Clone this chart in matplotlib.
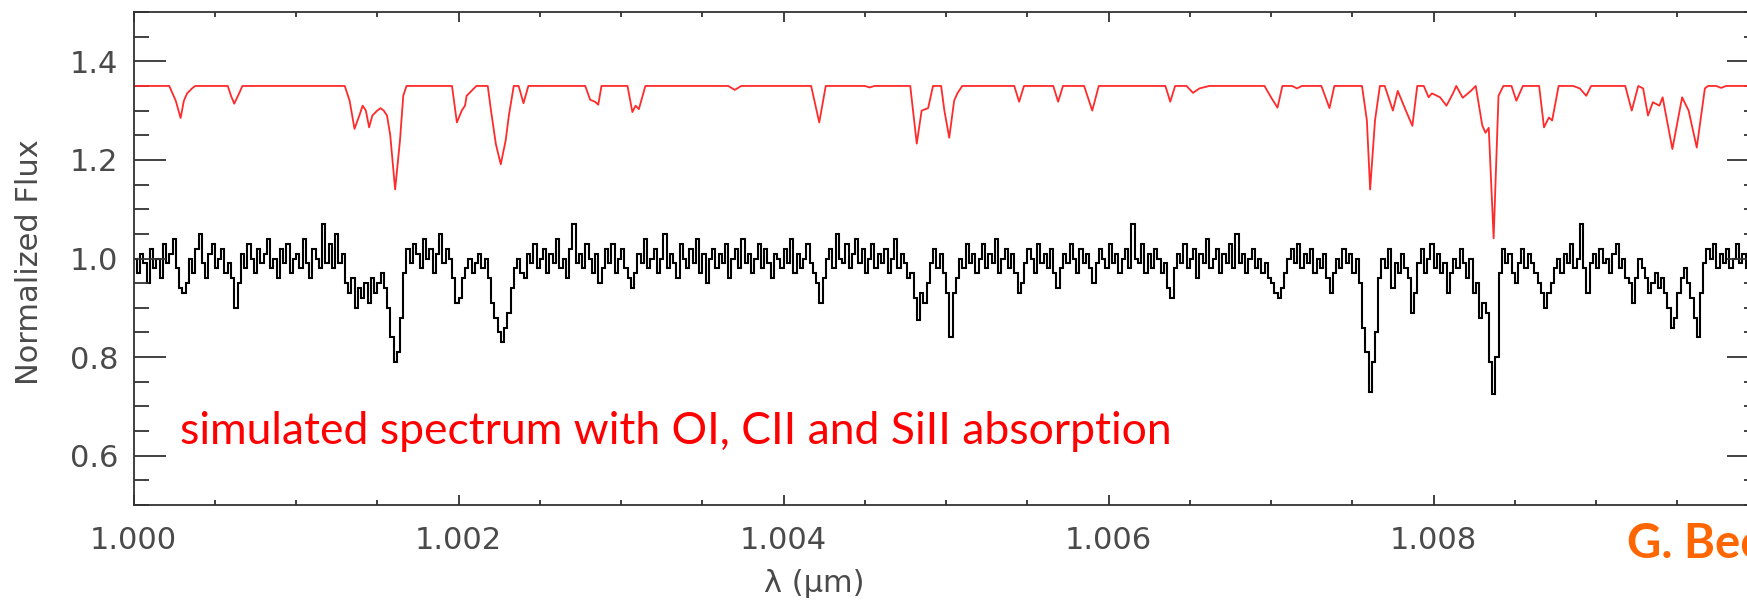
import matplotlib
matplotlib.use("Agg")
import matplotlib.pyplot as plt
import numpy as np
from matplotlib.ticker import MultipleLocator, FormatStrFormatter

# model spectrum (red), vertices, one absorption feature per line
red_wave = [
    1.00000, 1.00022,
    1.00026, 1.00029, 1.00031, 1.00033, 1.00036, 1.00038,
    1.00058, 1.00060, 1.00062, 1.00065, 1.00067,
    1.00130, 1.00133, 1.00136, 1.00139, 1.00141, 1.00143, 1.00145, 1.00147, 1.00150,
    1.00152, 1.00154, 1.00156, 1.00158, 1.00161, 1.00164, 1.00166, 1.00168,
    1.00196, 1.00199, 1.00202, 1.00204, 1.00205, 1.00208, 1.00211,
    1.00218, 1.00220, 1.00223, 1.00226, 1.00229, 1.00231, 1.00234,
    1.00237, 1.00240, 1.00243,
    1.00278, 1.00281, 1.00284, 1.00286, 1.00288,
    1.00304, 1.00307, 1.00309, 1.00311, 1.00315,
    1.00366, 1.00370, 1.00374,
    1.00417, 1.00422, 1.00426,
    1.00450, 1.00453, 1.00456,
    1.00478, 1.00482, 1.00485, 1.00489, 1.00492,
    1.00497, 1.00499, 1.00502, 1.00505, 1.00507, 1.00510,
    1.00542, 1.00545, 1.00548,
    1.00566, 1.00569, 1.00572,
    1.00585, 1.00590, 1.00594,
    1.00635, 1.00638, 1.00641,
    1.00648, 1.00652, 1.00656, 1.00662,
    1.00696, 1.00700, 1.00704, 1.00707,
    1.00713, 1.00716, 1.00719,
    1.00731, 1.00736, 1.00739,
    1.00756, 1.00759, 1.00761, 1.00764, 1.00767,
    1.00770, 1.00775, 1.00778, 1.00783, 1.00787, 1.00790,
    1.00794, 1.00797, 1.00799, 1.00804, 1.00808, 1.00812, 1.00814, 1.00818, 1.00823,
    1.00826, 1.00830, 1.00832, 1.00834, 1.00837, 1.00840, 1.00843,
    1.00848, 1.00851, 1.00855,
    1.00865, 1.00868, 1.00871, 1.00873, 1.00877,
    1.00886, 1.00890, 1.00894, 1.00897,
    1.00918, 1.00922, 1.00926,
    1.00929, 1.00932, 1.00935, 1.00939, 1.00941, 1.00947, 1.00953, 1.00957, 1.00962,
    1.00967, 1.00969,
    1.00974, 1.00977, 1.00980, 1.01000,
]
red_flux = [
    1.35, 1.35,
    1.32, 1.285, 1.32, 1.335, 1.345, 1.35,
    1.35, 1.33, 1.314, 1.335, 1.35,
    1.35, 1.32, 1.263, 1.29, 1.31, 1.30, 1.266, 1.29, 1.30,
    1.305, 1.30, 1.29, 1.25, 1.14, 1.24, 1.33, 1.35,
    1.35, 1.276, 1.30, 1.31, 1.33, 1.34, 1.35,
    1.35, 1.30, 1.232, 1.191, 1.239, 1.29, 1.35,
    1.35, 1.315, 1.35,
    1.35, 1.322, 1.318, 1.312, 1.35,
    1.35, 1.297, 1.31, 1.303, 1.35,
    1.35, 1.342, 1.35,
    1.35, 1.276, 1.35,
    1.35, 1.347, 1.35,
    1.35, 1.233, 1.30, 1.305, 1.35,
    1.35, 1.30, 1.245, 1.32, 1.335, 1.35,
    1.35, 1.318, 1.35,
    1.35, 1.318, 1.35,
    1.35, 1.30, 1.35,
    1.35, 1.318, 1.35,
    1.35, 1.336, 1.345, 1.35,
    1.35, 1.327, 1.306, 1.35,
    1.35, 1.345, 1.35,
    1.35, 1.305, 1.35,
    1.35, 1.28, 1.14, 1.28, 1.35,
    1.35, 1.30, 1.34, 1.30, 1.269, 1.35,
    1.35, 1.327, 1.335, 1.327, 1.31, 1.335, 1.35, 1.326, 1.34,
    1.35, 1.27, 1.255, 1.265, 1.041, 1.33, 1.35,
    1.35, 1.32, 1.35,
    1.35, 1.266, 1.286, 1.28, 1.35,
    1.35, 1.345, 1.33, 1.35,
    1.35, 1.30, 1.35,
    1.345, 1.29, 1.317, 1.31, 1.327, 1.222, 1.327, 1.30, 1.225,
    1.345, 1.35,
    1.35, 1.346, 1.35, 1.35,
]

# noisy simulated spectrum (black), one value per 0.00002 um pixel, 20 per row
pix_start = 1.0
pix_width = 0.00002
black_flux = [
    1.00, 0.97, 1.01, 0.99, 0.95, 1.02, 0.98, 1.00, 0.96, 1.03, 0.99, 1.01, 1.04, 0.98, 0.94, 0.93, 0.95, 1.00, 0.97, 1.02,
    1.05, 0.99, 0.96, 1.01, 1.03, 0.98, 1.00, 1.02, 0.97, 0.99, 0.96, 0.90, 0.95, 1.01, 0.98, 1.03, 1.00, 0.97, 1.02, 0.99,
    1.01, 1.04, 0.98, 1.00, 0.96, 1.02, 0.99, 1.03, 0.97, 1.00, 1.01, 0.98, 1.04, 0.99, 0.96, 1.02, 1.00, 0.98, 1.07, 0.99,
    1.03, 0.98, 1.05, 0.99, 1.01, 0.95, 0.93, 0.96, 0.90, 0.94, 0.92, 0.95, 0.91, 0.96, 0.93, 0.95, 0.97, 0.94, 0.90, 0.84,
    0.79, 0.81, 0.88, 0.97, 1.02, 0.99, 1.03, 1.01, 0.98, 1.04, 1.00, 1.02, 0.97, 1.01, 1.05, 0.99, 1.02, 1.00, 0.96, 0.91,
    0.92, 0.96, 0.98, 1.00, 0.97, 0.99, 1.01, 0.98, 1.00, 0.96, 0.91, 0.88, 0.85, 0.83, 0.86, 0.89, 0.94, 0.98, 1.00, 0.97,
    0.96, 1.01, 0.99, 1.03, 0.98, 1.00, 1.02, 0.97, 1.01, 0.99, 1.04, 0.98, 1.00, 0.96, 1.02, 1.07, 0.99, 1.01, 0.98, 1.03,
    1.00, 0.97, 1.01, 0.95, 0.98, 1.02, 0.99, 1.03, 0.97, 1.00, 1.02, 0.98, 0.96, 0.94, 0.97, 1.01, 0.99, 1.04, 0.98, 1.00,
    1.02, 0.97, 1.00, 1.05, 0.98, 1.01, 0.99, 0.96, 1.03, 1.00, 0.98, 1.02, 0.99, 1.04, 0.97, 1.01, 0.95, 1.00, 1.02, 0.98,
    1.01, 0.99, 1.03, 0.96, 1.00, 1.02, 0.98, 1.04, 0.99, 1.01, 0.97, 1.00, 1.03, 0.98, 1.02, 0.99, 0.96, 1.01, 1.00, 0.98,
    1.02, 0.99, 1.04, 0.97, 1.01, 0.98, 1.00, 1.03, 0.99, 0.97, 0.95, 0.91, 0.96, 1.00, 1.02, 0.98, 1.05, 1.00, 0.99, 1.03,
    0.98, 1.01, 1.04, 0.99, 1.02, 0.97, 1.00, 1.03, 0.98, 1.01, 0.99, 1.02, 0.97, 1.00, 1.04, 0.98, 1.01, 0.99, 0.96, 0.97,
    0.92, 0.875, 0.93, 0.91, 0.95, 0.99, 1.02, 0.98, 1.01, 0.97, 0.93, 0.84, 0.93, 0.96, 1.00, 0.98, 1.03, 0.99, 1.01, 0.97,
    1.00, 1.03, 0.98, 1.01, 0.99, 1.04, 0.97, 1.00, 1.02, 0.98, 1.01, 0.97, 0.93, 0.95, 0.99, 1.02, 1.00, 0.97, 1.03, 0.99,
    1.01, 0.98, 1.02, 0.97, 0.94, 0.98, 1.01, 0.99, 1.03, 1.00, 0.97, 1.02, 0.99, 1.01, 0.98, 0.95, 0.99, 1.02, 1.00, 0.98,
    1.03, 0.99, 1.01, 0.97, 1.00, 1.02, 0.98, 1.07, 1.00, 0.99, 1.03, 0.97, 1.01, 0.98, 1.02, 1.00, 0.97, 0.99, 0.94, 0.92,
    0.98, 1.01, 0.99, 1.03, 0.98, 1.00, 1.02, 0.96, 1.01, 0.99, 1.04, 0.98, 1.00, 1.02, 0.97, 1.01, 0.99, 1.03, 0.98, 1.05,
    0.99, 1.01, 0.97, 1.00, 1.02, 0.98, 1.00, 0.97, 0.99, 0.96, 0.95, 0.93, 0.92, 0.94, 0.97, 1.00, 1.02, 0.99, 1.03, 0.98,
    1.01, 0.99, 1.02, 0.97, 1.00, 0.98, 1.01, 0.96, 0.93, 0.97, 1.00, 0.98, 1.02, 0.99, 1.01, 0.97, 1.00, 0.95, 0.86, 0.81,
    0.73, 0.79, 0.85, 0.96, 1.00, 0.98, 1.02, 0.94, 0.99, 0.97, 1.01, 0.98, 0.96, 0.89, 0.93, 0.99, 1.02, 0.97, 1.00, 1.03,
    0.98, 1.01, 0.97, 0.99, 0.93, 0.97, 1.00, 0.98, 1.02, 0.99, 0.96, 1.00, 0.93, 0.95, 0.88, 0.91, 0.89, 0.79, 0.725, 0.80,
    0.97, 1.02, 0.99, 1.01, 0.97, 0.95, 0.99, 1.02, 0.98, 1.01, 0.99, 0.97, 0.95, 0.93, 0.90, 0.93, 0.95, 0.98, 1.00, 0.97,
    1.01, 0.99, 1.03, 0.98, 1.00, 1.07, 0.98, 0.93, 0.99, 1.01, 0.98, 1.02, 0.99, 1.00, 0.97, 1.01, 1.03, 0.98, 1.00, 0.96,
    0.95, 0.91, 0.96, 1.00, 0.98, 0.96, 0.93, 0.95, 0.97, 0.94, 0.96, 0.93, 0.90, 0.86, 0.88, 0.93, 0.96, 0.98, 0.95, 0.92,
    0.88, 0.84, 0.93, 0.99, 1.02, 1.00, 1.03, 0.98, 1.01, 0.99, 1.02, 0.98, 1.00, 1.03, 0.99, 1.01, 0.98, 1.02, 1.00, 0.99,
]

x_ticks = [1.000, 1.002, 1.004, 1.006, 1.008]
y_ticks = [0.6, 0.8, 1.0, 1.2, 1.4]

W, H = 1747, 603
AX_COL = "#333333"
LAB_COL = "#4a4a4a"

fig = plt.figure(figsize=(W / 100, H / 100), dpi=100)
# axis runs to 1.010, its right edge falls just outside the picture
ax = fig.add_axes([133.5 / W, 98 / H, 1625 / W, 493 / H])

edges = pix_start + pix_width * np.arange(len(black_flux) + 1)
ax.stairs(black_flux, edges, color="black", lw=1.5, baseline=None)
ax.plot(red_wave, red_flux, color="#ff2a2a", lw=1.3)

ax.set_xlim(1.000, 1.010)
ax.set_ylim(0.5, 1.5)
ax.set_xticks(x_ticks)
ax.set_yticks(y_ticks)
ax.xaxis.set_minor_locator(MultipleLocator(0.0005))
ax.yaxis.set_minor_locator(MultipleLocator(0.05))
ax.xaxis.set_major_formatter(FormatStrFormatter("%.3f"))
ax.yaxis.set_major_formatter(FormatStrFormatter("%.1f"))

ax.tick_params(which="both", direction="in", top=True, right=True,
               color=AX_COL, width=1.3, labelcolor=LAB_COL, labelsize=22)
ax.tick_params(axis="y", which="major", length=23, pad=11)
ax.tick_params(axis="y", which="minor", length=11)
ax.tick_params(axis="x", which="major", length=7, pad=15)
ax.tick_params(axis="x", which="minor", length=3.5)
for s in ax.spines.values():
    s.set_color(AX_COL)
    s.set_linewidth(1.3)

fig.text(30 / W, 1 - 262 / H, "Normalized Flux", rotation=90, ha="center",
         va="center", fontsize=22, color=LAB_COL)
fig.text(814 / W, 1 - 583 / H, "λ (μm)", ha="center", va="center",
         fontsize=22, color=LAB_COL)

fig.text(180 / W, 1 - 444 / H,
         "simulated spectrum with OI, CII and SiII absorption",
         color="#ff0000", fontsize=32, family="Lato", va="baseline")
fig.text(1627 / W, 1 - 558 / H, "G. Becker", color="#ff6600",
         fontsize=34, family="Lato", fontweight="bold", va="baseline")

fig.savefig("out.png", dpi=100)
